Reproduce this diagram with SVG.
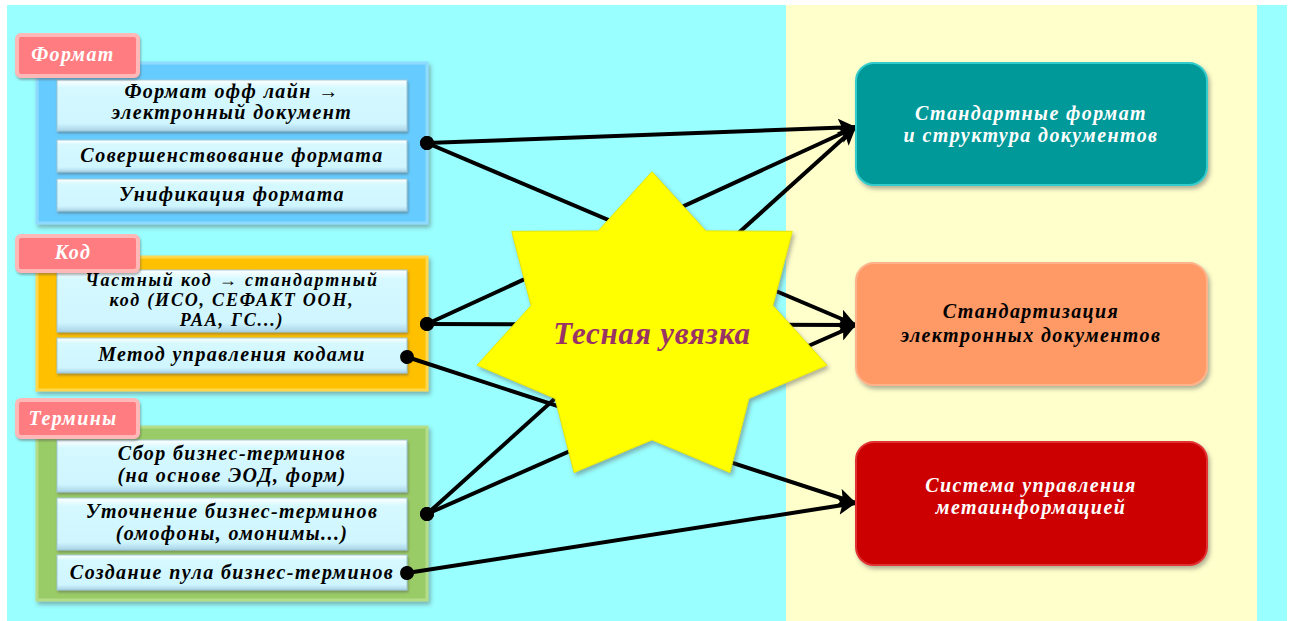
<svg xmlns="http://www.w3.org/2000/svg" width="1293" height="621" viewBox="0 0 1293 621">
<style>
.t{font-family:"Liberation Serif","DejaVu Serif",serif;font-weight:bold;font-style:italic;font-size:20px;letter-spacing:1.4px;text-anchor:middle;fill:#000}
.s{font-size:18px;letter-spacing:1.8px}
.w{fill:#fff}
.tab{fill:#FF7C80;stroke:#FFB8B8;stroke-width:4}
.item{fill:url(#gItem);stroke:#9FC7D6;stroke-width:1}
.conn{stroke:#000;stroke-width:4;fill:none;marker-start:url(#dot);marker-end:url(#arr)}
</style>
<defs>
<linearGradient id="gItem" x1="0" y1="0" x2="0" y2="1">
<stop offset="0" stop-color="#ffffff"/><stop offset="0.15" stop-color="#D6F9FF"/><stop offset="0.85" stop-color="#CFF5FF"/><stop offset="1" stop-color="#A9D3E6"/>
</linearGradient>
<filter id="sh" x="-10%" y="-10%" width="130%" height="130%"><feDropShadow dx="2" dy="3" stdDeviation="2" flood-color="#555" flood-opacity="0.45"/></filter>
<filter id="shs" x="-10%" y="-10%" width="130%" height="130%"><feDropShadow dx="1" dy="2" stdDeviation="1" flood-color="#555" flood-opacity="0.45"/></filter>
<marker id="arr" markerUnits="userSpaceOnUse" markerWidth="20" markerHeight="18" refX="18" refY="9" orient="auto"><path d="M0,0 L18,9 L0,18 L4,9 z" fill="#000"/></marker>
<marker id="dot" markerUnits="userSpaceOnUse" markerWidth="16" markerHeight="16" refX="8" refY="8" orient="auto"><circle cx="8" cy="8" r="7" fill="#000"/></marker>
</defs>
<rect width="1293" height="621" fill="#fff"/>
<rect x="7" y="5" width="1280" height="616" fill="#99FFFF"/>
<rect x="786" y="5" width="471" height="616" fill="#FFFFCC"/>

<g id="format">
<rect x="37" y="63" width="390" height="160" fill="#66CCFF" stroke="#8FDBFF" stroke-width="3" filter="url(#sh)"/>
<rect x="57" y="80" width="350" height="51" class="item" filter="url(#shs)"/>
<rect x="57" y="140" width="350" height="32" class="item" filter="url(#shs)"/>
<rect x="57" y="179" width="350" height="32" class="item" filter="url(#shs)"/>
<rect x="17" y="35" width="121" height="41" rx="4" class="tab" filter="url(#shs)"/>
<text x="73" y="61" class="t w">Формат</text>
<text x="232" y="98" class="t">Формат офф лайн →</text>
<text x="232" y="119" class="t">электронный документ</text>
<text x="232" y="162" class="t">Совершенствование формата</text>
<text x="232" y="201" class="t">Унификация формата</text>
</g>

<g id="code">
<rect x="37" y="257" width="390" height="133" fill="#FFC000" stroke="#FFD84D" stroke-width="3" filter="url(#sh)"/>
<rect x="57" y="270" width="350" height="62" class="item" filter="url(#shs)"/>
<rect x="57" y="338" width="350" height="35" class="item" filter="url(#shs)"/>
<rect x="17" y="236" width="121" height="35" rx="4" class="tab" filter="url(#shs)"/>
<text x="73" y="259" class="t w">Код</text>
<text x="232" y="286" class="t s">Частный код → стандартный</text>
<text x="232" y="306" class="t s">код (ИСО, СЕФАКТ ООН,</text>
<text x="232" y="326" class="t s">РАА, ГС...)</text>
<text x="232" y="361" class="t">Метод управления кодами</text>
</g>

<g id="terms">
<rect x="37" y="427" width="390" height="173" fill="#99CC66" stroke="#B3DD88" stroke-width="3" filter="url(#sh)"/>
<rect x="57" y="440" width="350" height="52" class="item" filter="url(#shs)"/>
<rect x="57" y="498" width="350" height="52" class="item" filter="url(#shs)"/>
<rect x="57" y="555" width="350" height="35" class="item" filter="url(#shs)"/>
<rect x="17" y="400" width="121" height="37" rx="4" class="tab" filter="url(#shs)"/>
<text x="73" y="425" class="t w">Термины</text>
<text x="232" y="460" class="t">Сбор бизнес-терминов</text>
<text x="232" y="482" class="t">(на основе ЭОД, форм)</text>
<text x="232" y="518" class="t">Уточнение бизнес-терминов</text>
<text x="232" y="540" class="t">(омофоны, омонимы...)</text>
<text x="232" y="579" class="t">Создание пула бизнес-терминов</text>
</g>

<g id="connectors">
<line class="conn" x1="427" y1="143" x2="856" y2="127"/>
<line class="conn" x1="427" y1="143" x2="856" y2="325"/>
<line class="conn" x1="427" y1="324" x2="856" y2="127"/>
<line class="conn" x1="427" y1="324" x2="856" y2="325"/>
<line class="conn" x1="407" y1="357" x2="856" y2="503"/>
<line class="conn" x1="427" y1="514" x2="856" y2="127"/>
<line class="conn" x1="427" y1="514" x2="856" y2="325"/>
<line class="conn" x1="407" y1="573" x2="856" y2="503"/>
</g>

<g id="star">
<polygon points="652,171.7 705.8,230.9 792.3,231.3 772.9,305.5 827,365.2 748.9,398.6 729.9,472.6 652,440 574.1,472.6 555.1,398.6 477,365.2 531.1,305.5 511.7,231.3 598.2,230.9" fill="#FFFF00" stroke="#E6E600" stroke-width="1" filter="url(#sh)"/>
<text x="652" y="344" class="t" style="font-size:31px;letter-spacing:0.8px;fill:#993366">Тесная увязка</text>
</g>

<g id="std-format">
<rect x="856" y="63" width="351" height="122" rx="18" fill="#009999" stroke="#33CCCC" stroke-width="2" filter="url(#sh)"/>
<text x="1031" y="120" class="t w">Стандартные формат</text>
<text x="1031" y="142" class="t w">и структура документов</text>
</g>

<g id="std-docs">
<rect x="856" y="263" width="351" height="122" rx="18" fill="#FF9966" stroke="#FFB38A" stroke-width="2" filter="url(#sh)"/>
<text x="1031" y="318" class="t">Стандартизация</text>
<text x="1031" y="342" class="t">электронных документов</text>
</g>

<g id="meta">
<rect x="856" y="442" width="351" height="123" rx="18" fill="#CC0000" stroke="#E03333" stroke-width="2" filter="url(#sh)"/>
<text x="1031" y="492" class="t w">Система управления</text>
<text x="1031" y="514" class="t w">метаинформацией</text>
</g>
</svg>
